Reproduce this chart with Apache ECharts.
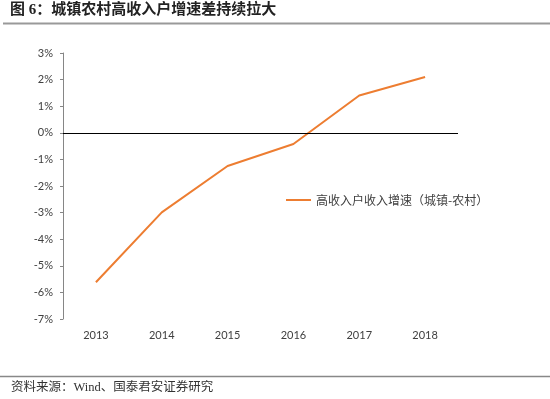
<!DOCTYPE html>
<html>
<head>
<meta charset="utf-8">
<script src="https://cdn.jsdelivr.net/npm/echarts@6/dist/echarts.min.js"></script>
<style>
  html, body { margin: 0; padding: 0; background: #fff; }
  #chart { width: 550px; height: 399px; }
</style>
</head>
<body>
<div id="chart"></div>
<script>
const years = ['2013', '2014', '2015', '2016', '2017', '2018']
const gapValues = [-5.62, -2.99, -1.25, -0.42, 1.40, 2.10]
const seriesName = '高收入户收入增速（城镇-农村）'
const titleText = '图 6：城镇农村高收入户增速差持续拉大'
const sourceText = '资料来源：Wind、国泰君安证券研究'

const chart = echarts.init(document.getElementById('chart'))

const option = {
  animation: false,
  backgroundColor: '#fff',
  textStyle: { fontFamily: 'Lato, "Noto Sans CJK SC", sans-serif' },
  graphic: [
    {
      type: 'text',
      left: 10,
      top: 3,
      style: {
        text: titleText,
        font: 'bold 15px "Liberation Serif", "Noto Sans CJK SC", serif',
        fill: '#222'
      }
    },
    {
      type: 'line',
      shape: { x1: 3, y1: 23.5, x2: 550, y2: 23.5 },
      style: { stroke: '#999', lineWidth: 2 }
    },
    {
      type: 'line',
      shape: { x1: 0, y1: 376.5, x2: 550, y2: 376.5 },
      style: { stroke: '#888', lineWidth: 1.5 }
    },
    {
      type: 'text',
      left: 11,
      top: 381,
      style: {
        text: sourceText,
        font: '12.5px "Liberation Serif", "Noto Sans CJK SC", serif',
        fill: '#333'
      }
    }
  ],
  legend: {
    left: 281,
    top: 189,
    icon: 'rect',
    itemWidth: 25,
    itemHeight: 2,
    itemGap: 5,
    textStyle: { fontSize: 12, color: '#404040', fontFamily: '"Noto Sans CJK SC", sans-serif' },
    data: [seriesName]
  },
  grid: {
    left: 63,
    right: 92,
    top: 53,
    bottom: 80
  },
  xAxis: {
    type: 'category',
    data: years,
    boundaryGap: true,
    axisLine: { show: false, onZero: false },
    axisTick: { show: false },
    axisLabel: { margin: 11, fontSize: 11, color: '#404040' }
  },
  yAxis: {
    type: 'value',
    min: -7,
    max: 3,
    interval: 1,
    axisLine: { show: true, lineStyle: { color: '#868686', width: 1 } },
    axisTick: { show: true, inside: false, length: 3, lineStyle: { color: '#868686' } },
    splitLine: { show: false },
    axisLabel: {
      margin: 10,
      fontSize: 11,
      color: '#404040',
      formatter: '{value}%'
    }
  },
  series: [
    {
      name: seriesName,
      type: 'line',
      data: gapValues,
      symbol: 'none',
      lineStyle: { color: '#ED7D31', width: 2 },
      itemStyle: { color: '#ED7D31' },
      markLine: {
        silent: true,
        symbol: 'none',
        label: { show: false },
        lineStyle: { color: '#000', width: 1, type: 'solid' },
        data: [{ yAxis: 0 }]
      }
    }
  ]
}

chart.setOption(option)
</script>
</body>
</html>
